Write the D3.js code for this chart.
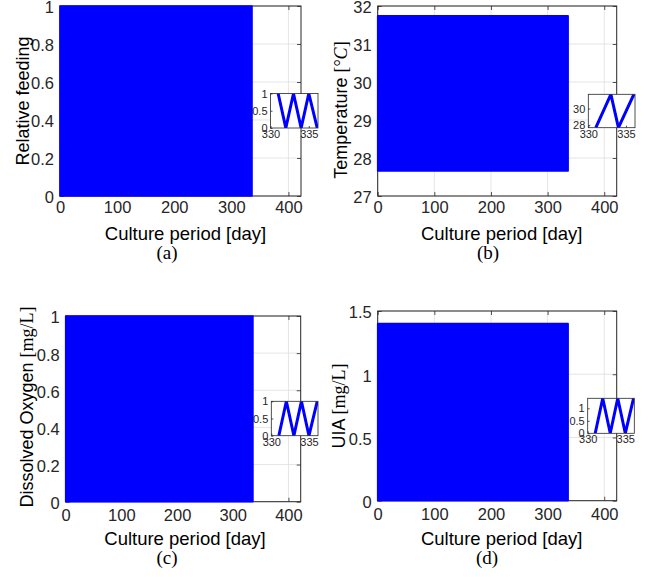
<!DOCTYPE html>
<html>
<head>
<meta charset="utf-8">
<script src="https://cdn.jsdelivr.net/npm/d3@7"></script>
<style>
  body { margin: 0; background: #fff; }
  svg { display: block; font-family: "Liberation Sans", Arial, sans-serif; }
</style>
</head>
<body>
<svg id="chart" width="649" height="577"></svg>
<script>
// data.
// main plots: the series swings every day between a low and a high value,
// so at this scale it shows up as a solid band from day 0 to the last day.
const bandDays = [0, 336.2];
const feedingBand = [0, 1];
const temperatureBand = [27.66, 31.74];
const oxygenBand = [0, 1];
const uiaBand = [0, 1.4];

// zoomed windows, day 330 to 336
const zoomWindow = [330, 336.2];
const zoomDays = [331, 332, 333, 334, 335, 336.1];
const zoomFeeding = [1, 0, 1, 0, 1, 0];
const zoomTempDays = [331, 333, 334, 336.05];
const zoomTemperature = [27.66, 31.74, 27.66, 31.74];
const zoomOxygen = [0, 1, 0, 1, 0, 1];
const zoomUia = [0, 1.4, 0, 1.4, 0, 1.4];

// ticks
const xMax = 422;
const xTicks = [0, 100, 200, 300, 400];
const feedingTicks = [0, 0.2, 0.4, 0.6, 0.8, 1];
const temperatureTicks = [27, 28, 29, 30, 31, 32];
const oxygenTicks = [0, 0.2, 0.4, 0.6, 0.8, 1];
const uiaTicks = [0, 0.5, 1, 1.5];
const zoomXTicks = [330, 335];
const zoomUnitTicks = [0, 0.5, 1];
const zoomTempTicks = [28, 30];

const blue = '#0000ff';
const axisColor = '#262626';
const gridColor = '#dedede';

let panels = [
  {
    tag: '(a)', band: feedingBand, yDomain: [0, 1], yTicks: feedingTicks,
    ylabel: [['Relative feeding', '']],
    zDays: zoomDays, zValues: zoomFeeding, zTicks: zoomUnitTicks,
    left: 60, right: 301, top: 6, bottom: 196, xTickPad: 5.5,
    ylabelPos: [28.5, 101], xlabelPos: [185.5, 240], tagPos: [167, 259],
    inset: {left: 270.5, right: 318, top: 93.5, bottom: 128}
  },
  {
    tag: '(b)', band: temperatureBand, yDomain: [27, 32], yTicks: temperatureTicks,
    ylabel: [['Temperature ', ''], ['[°', 'serif'], ['C', 'serif-italic'], [']', 'serif']],
    zDays: zoomTempDays, zValues: zoomTemperature, zTicks: zoomTempTicks,
    left: 377.7, right: 616.7, top: 6, bottom: 196, xTickPad: 5.5,
    ylabelPos: [346.5, 110], xlabelPos: [501.7, 240], tagPos: [488, 259],
    inset: {left: 588.3, right: 635, top: 94.3, bottom: 127.7}
  },
  {
    tag: '(c)', band: oxygenBand, yDomain: [0, 1], yTicks: oxygenTicks,
    ylabel: [['Dissolved Oxygen ', ''], ['[mg/L]', 'serif']],
    zDays: zoomDays, zValues: zoomOxygen, zTicks: zoomUnitTicks,
    left: 65.7, right: 300.7, top: 316, bottom: 501.7, xTickPad: 8,
    ylabelPos: [33, 407], xlabelPos: [185, 545], tagPos: [167, 564],
    inset: {left: 271.3, right: 318, top: 401.3, bottom: 435.7}
  },
  {
    tag: '(d)', band: uiaBand, yDomain: [0, 1.5], yTicks: uiaTicks,
    ylabel: [['UIA ', ''], ['[mg/L]', 'serif']],
    zDays: zoomDays, zValues: zoomUia, zTicks: zoomUnitTicks,
    left: 377.7, right: 616.7, top: 311, bottom: 500.7, xTickPad: 7.5,
    ylabelPos: [344.5, 406], xlabelPos: [501.7, 545], tagPos: [487, 564],
    inset: {left: 587.7, right: 634.3, top: 398.3, bottom: 433.3}
  }
];

let svg = d3.select('#chart');
panels.forEach((p, i) => drawPanel(svg, p, i));

function styleAxis(g, fontSize) {
  g.attr('font-family', null).attr('font-size', fontSize);
  g.select('.domain').remove();
  g.selectAll('.tick line').attr('stroke', axisColor).attr('stroke-width', 0.8);
  g.selectAll('.tick text').attr('fill', axisColor);
}

function drawPanel(svg, p, idx) {
  let x = d3.scaleLinear().domain([0, xMax]).range([p.left, p.right]);
  let y = d3.scaleLinear().domain(p.yDomain).range([p.bottom, p.top]);
  let g = svg.append('g');

  // grid lines
  g.selectAll('.vgrid').data(xTicks).enter().append('line')
    .attr('x1', d => x(d)).attr('x2', d => x(d))
    .attr('y1', p.top).attr('y2', p.bottom)
    .attr('stroke', gridColor).attr('stroke-width', 0.8);
  g.selectAll('.hgrid').data(p.yTicks).enter().append('line')
    .attr('x1', p.left).attr('x2', p.right)
    .attr('y1', d => y(d)).attr('y2', d => y(d))
    .attr('stroke', gridColor).attr('stroke-width', 0.8);

  // axes, ticks pointing inwards on all four sides
  g.append('g').attr('transform', 'translate(0,' + p.bottom + ')')
    .call(d3.axisBottom(x).tickValues(xTicks).tickSizeInner(-4).tickSizeOuter(0).tickPadding(p.xTickPad))
    .call(a => styleAxis(a, 16.5));
  g.append('g').attr('transform', 'translate(0,' + p.top + ')')
    .call(d3.axisTop(x).tickValues(xTicks).tickSizeInner(-4).tickSizeOuter(0).tickFormat(''))
    .call(a => styleAxis(a, 16.5));
  g.append('g').attr('transform', 'translate(' + p.left + ',0)')
    .call(d3.axisLeft(y).tickValues(p.yTicks).tickSizeInner(-4).tickSizeOuter(0).tickPadding(6).tickFormat(d => String(d)))
    .call(a => styleAxis(a, 16.5))
    .call(a => a.selectAll('.tick text').attr('dy', '0.42em'));
  g.append('g').attr('transform', 'translate(' + p.right + ',0)')
    .call(d3.axisRight(y).tickValues(p.yTicks).tickSizeInner(-4).tickSizeOuter(0).tickFormat(''))
    .call(a => styleAxis(a, 16.5));

  g.append('rect')
    .attr('x', p.left).attr('y', p.top)
    .attr('width', p.right - p.left).attr('height', p.bottom - p.top)
    .attr('fill', 'none').attr('stroke', axisColor).attr('stroke-width', 1);

  // the series band
  let band = bandDays.map(d => ({day: d, low: p.band[0], high: p.band[1]}));
  g.append('path')
    .datum(band)
    .attr('d', d3.area().x(d => x(d.day)).y0(d => y(d.low)).y1(d => y(d.high)))
    .attr('fill', blue).attr('stroke', blue)
    .attr('stroke-width', 1.6).attr('stroke-linejoin', 'round');

  // labels
  g.append('text')
    .attr('x', p.xlabelPos[0]).attr('y', p.xlabelPos[1])
    .attr('text-anchor', 'middle').attr('font-size', 18.5).attr('fill', '#000')
    .text('Culture period [day]');

  g.append('text')
    .attr('x', p.tagPos[0]).attr('y', p.tagPos[1])
    .attr('text-anchor', 'middle').attr('font-size', 19)
    .attr('font-family', '"Liberation Serif", "Times New Roman", serif')
    .text(p.tag);

  let yl = g.append('text')
    .attr('transform', 'translate(' + p.ylabelPos[0] + ',' + p.ylabelPos[1] + ') rotate(-90)')
    .attr('text-anchor', 'middle').attr('font-size', 18).attr('fill', '#000');
  p.ylabel.forEach(part => {
    let t = yl.append('tspan').text(part[0]);
    if (part[1].startsWith('serif')) {
      t.attr('font-family', '"Liberation Serif", "Times New Roman", serif');
    }
    if (part[1] == 'serif-italic') {
      t.attr('font-style', 'italic');
    }
  });

  drawInset(g, p, idx);
}

function drawInset(g, p, idx) {
  let b = p.inset;
  let ix = d3.scaleLinear().domain(zoomWindow).range([b.left, b.right]);
  let iy = d3.scaleLinear().domain(d3.extent(p.zValues)).range([b.bottom, b.top]);

  g.append('rect')
    .attr('x', b.left).attr('y', b.top)
    .attr('width', b.right - b.left).attr('height', b.bottom - b.top)
    .attr('fill', '#fff');

  g.append('clipPath').attr('id', 'inset-clip-' + idx)
    .append('rect')
    .attr('x', b.left).attr('y', b.top)
    .attr('width', b.right - b.left).attr('height', b.bottom - b.top);

  let pts = p.zDays.map((d, i) => [d, p.zValues[i]]);
  g.append('path')
    .datum(pts)
    .attr('clip-path', 'url(#inset-clip-' + idx + ')')
    .attr('d', d3.line().x(d => ix(d[0])).y(d => iy(d[1])))
    .attr('fill', 'none').attr('stroke', blue).attr('stroke-width', 3);

  g.append('g').attr('transform', 'translate(0,' + b.bottom + ')')
    .call(d3.axisBottom(ix).tickValues(zoomXTicks).tickSizeInner(-2).tickSizeOuter(0).tickPadding(2).tickFormat(d => String(d)))
    .call(a => styleAxis(a, 11));
  g.append('g').attr('transform', 'translate(' + b.left + ',0)')
    .call(d3.axisLeft(iy).tickValues(p.zTicks).tickSizeInner(-2).tickSizeOuter(0).tickPadding(3).tickFormat(d => String(d)))
    .call(a => styleAxis(a, 11));

  g.append('rect')
    .attr('x', b.left).attr('y', b.top)
    .attr('width', b.right - b.left).attr('height', b.bottom - b.top)
    .attr('fill', 'none').attr('stroke', axisColor).attr('stroke-width', 0.8);
}
</script>
</body>
</html>
